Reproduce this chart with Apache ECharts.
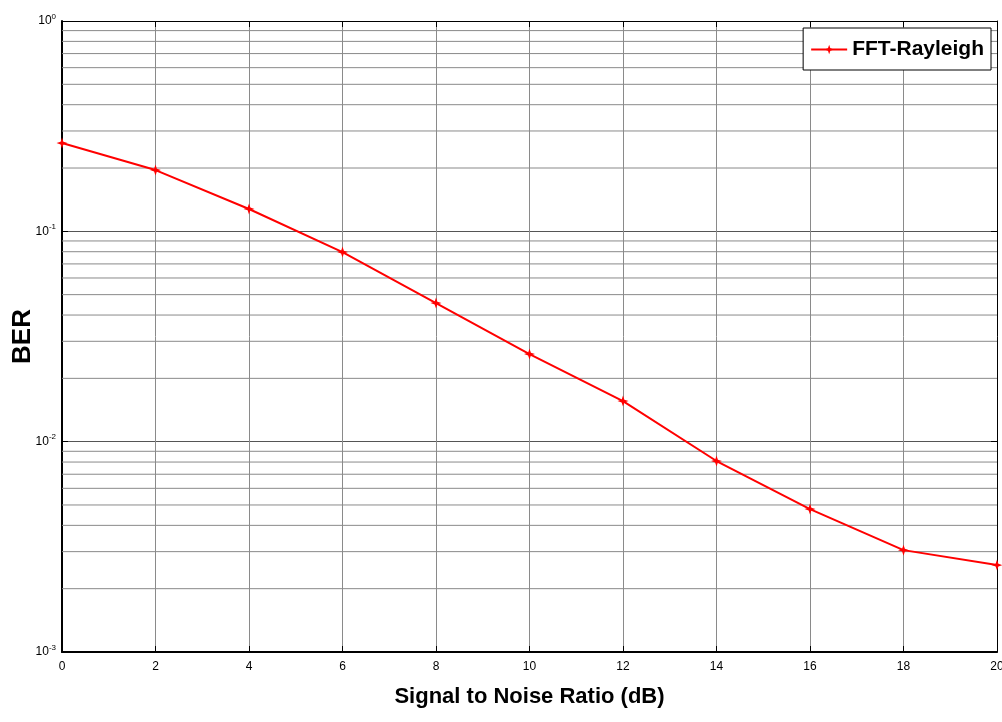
<!DOCTYPE html>
<html><head><meta charset="utf-8">
<script src="https://cdn.jsdelivr.net/npm/echarts@6/dist/echarts.min.js"></script>
<style>html,body{margin:0;padding:0;background:#fff}#c{width:1002px;height:722px}</style>
</head><body><div id="c"></div>
<script>
var snr = [0, 2, 4, 6, 8, 10, 12, 14, 16, 18, 20];
var ber = [0.263, 0.1956, 0.1277, 0.0797, 0.0456, 0.0261, 0.0156, 0.00809, 0.00478, 0.00305, 0.00259];
var seriesName = 'FFT-Rayleigh';
var xTitle = 'Signal to Noise Ratio (dB)';
var yTitle = 'BER';
var decades = [0.001, 0.01, 0.1];
var minorMultipliers = [2, 3, 4, 5, 6, 7, 8, 9];

var gridColor = '#8a8a8a';
var FONT = 'Liberation Sans';

var gridSeries = [];
decades.forEach(function (d) {
  minorMultipliers.forEach(function (m) {
    var v = d * m;
    gridSeries.push({
      name: 'grid' + v, type: 'line', silent: true, symbol: 'none',
      data: [[snr[0], v], [snr[snr.length - 1], v]],
      lineStyle: { color: gridColor, width: 1 },
      emphasis: { disabled: true }, z: 1, animation: false
    });
  });
});

var chart = echarts.init(document.getElementById('c'));
chart.setOption({
  animation: false,
  backgroundColor: '#fff',
  tooltip: { show: false },
  grid: { left: 62, right: 5, top: 21, bottom: 70, containLabel: false, outerBoundsMode: 'none' },
  legend: {
    right: 11, top: 28,
    backgroundColor: '#fff', borderColor: '#000', borderWidth: 1,
    padding: [11, 7, 10, 7], itemWidth: 36, itemHeight: 12, itemGap: 4,
    textStyle: { fontFamily: FONT, fontWeight: 'bold', fontSize: 21, color: '#000' },
    data: [seriesName]
  },
  xAxis: [{
    type: 'value', min: 0, max: 20, interval: 2,
    name: xTitle, nameLocation: 'middle', nameGap: 34, nameMoveOverlap: false,
    nameTextStyle: { fontFamily: FONT, fontWeight: 'bold', fontSize: 22, color: '#000' },
    axisLine: { show: true, onZero: false, lineStyle: { color: '#000', width: 2 } },
    axisTick: { show: true, inside: true, length: 6, lineStyle: { color: '#000' } },
    axisLabel: { fontFamily: FONT, fontSize: 12, color: '#000', margin: 9 },
    splitLine: { show: true, lineStyle: { color: gridColor, width: 1 } }
  }, {
    type: 'value', min: 0, max: 20, interval: 2, position: 'top',
    axisLine: { show: true, onZero: false, lineStyle: { color: '#000', width: 1 } },
    axisTick: { show: true, inside: true, length: 6, lineStyle: { color: '#000' } },
    axisLabel: { show: false }, splitLine: { show: false }
  }],
  yAxis: [{
    type: 'log', logBase: 10, min: 0.001, max: 1,
    name: yTitle, nameLocation: 'middle', nameGap: 26, nameRotate: 90, nameMoveOverlap: false,
    nameTextStyle: { fontFamily: FONT, fontWeight: 'bold', fontSize: 26, color: '#000' },
    axisLine: { show: true, onZero: false, lineStyle: { color: '#000', width: 2 } },
    axisTick: { show: true, inside: true, length: 6, lineStyle: { color: '#000' } },
    axisLabel: {
      margin: 6,
      formatter: function (v) {
        var e = Math.round(Math.log10(v));
        return '{b|10}{e|' + e + '}';
      },
      rich: {
        b: { fontFamily: FONT, fontSize: 12, color: '#000' },
        e: { fontFamily: FONT, fontSize: 8, color: '#000', padding: [0, 0, 9, 0] }
      }
    },
    splitLine: { show: true, lineStyle: { color: '#555', width: 1 } }
  }, {
    type: 'log', logBase: 10, min: 0.001, max: 1, position: 'right',
    axisLine: { show: true, onZero: false, lineStyle: { color: '#000', width: 1 } },
    axisTick: { show: true, inside: true, length: 6, lineStyle: { color: '#000' } },
    axisLabel: { show: false }, splitLine: { show: false }
  }],
  series: gridSeries.concat([{
    name: seriesName, type: 'line',
    data: snr.map(function (x, i) { return [x, ber[i]]; }),
    symbol: 'path://M0,-10 L2.5,-2.5 L10,0 L2.5,2.5 L0,10 L-2.5,2.5 L-10,0 L-2.5,-2.5 Z',
    symbolSize: 11, showAllSymbol: true,
    lineStyle: { color: '#ff0000', width: 2 },
    itemStyle: { color: '#ff0000' },
    z: 5
  }])
});
</script></body></html>
